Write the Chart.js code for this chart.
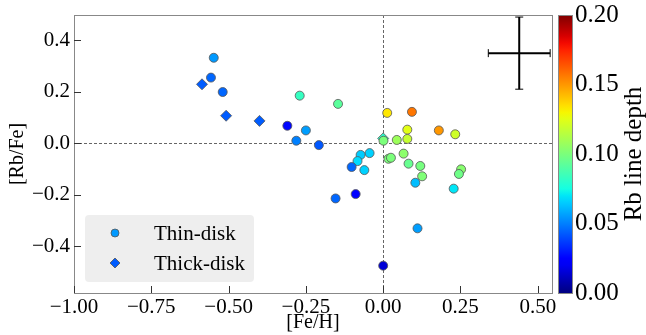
<!DOCTYPE html>
<html>
<head>
<meta charset="utf-8">
<script src="https://cdn.jsdelivr.net/npm/chart.js@4.4.1/dist/chart.umd.min.js"></script>
<style>
  html, body { margin: 0; padding: 0; background: #fff; }
</style>
</head>
<body>
<canvas id="myChart" width="646" height="335"></canvas>
<script>
// thin-disk stars: [Fe/H], [Rb/Fe], Rb line depth
const thinFeH = [-0.548, -0.557, -0.519, -0.310, -0.250, -0.281, -0.208, -0.270, -0.146,
    0.013, 0.093, 0.078, 0.180, 0.233, 0.078, 0.044, 0.001, 0.066, 0.017, 0.025, 0.082,
    0.120, 0.126, 0.252, 0.245, 0.104, 0.228, -0.044, -0.073, -0.083, -0.102, -0.061,
    -0.154, -0.089, 0.111, 0.000];
const thinRbFe = [0.332, 0.255, 0.199, 0.068, 0.050, 0.010, -0.007, 0.185, 0.153,
    0.118, 0.122, 0.053, 0.050, 0.035, 0.017, 0.013, 0.010, -0.040, -0.060, -0.056, -0.079,
    -0.088, -0.128, -0.101, -0.119, -0.153, -0.176, -0.038, -0.045, -0.069, -0.092, -0.104,
    -0.214, -0.197, -0.330, -0.475];
const thinDepth = [0.055, 0.045, 0.045, 0.026, 0.056, 0.050, 0.042, 0.083, 0.092,
    0.133, 0.157, 0.125, 0.150, 0.120, 0.118, 0.108, 0.100, 0.104, 0.100, 0.100, 0.095,
    0.099, 0.101, 0.103, 0.097, 0.062, 0.070, 0.066, 0.065, 0.068, 0.045, 0.066,
    0.045, 0.025, 0.056, 0.015];

// thick-disk stars
const thickFeH = [-0.586, -0.508, -0.400, 0.000];
const thickRbFe = [0.229, 0.107, 0.087, 0.019];
const thickDepth = [0.043, 0.043, 0.043, 0.080];

// typical error bar
const errFeH = [0.44];
const errRbFe = [0.35];
const errFeHSize = [0.10];
const errRbFeSize = [0.14];

const xTicks = [-1.00, -0.75, -0.50, -0.25, 0.00, 0.25, 0.50];
const yTicks = [-0.4, -0.2, 0.0, 0.2, 0.4];
const cbTicks = [0.00, 0.05, 0.10, 0.15, 0.20];
const depthMin = 0.0, depthMax = 0.2;

const serif = '"Liberation Serif", "Times New Roman", serif';

// matplotlib jet segments
const jetR = [[0, 0], [0.35, 0], [0.66, 1], [0.89, 1], [1, 0.5]];
const jetG = [[0, 0], [0.125, 0], [0.375, 1], [0.64, 1], [0.91, 0], [1, 0]];
const jetB = [[0, 0.5], [0.11, 1], [0.34, 1], [0.65, 0], [1, 0]];
const seg = function(p, t) {
    for (let i = 1; i < p.length; i++) {
        if (t <= p[i][0]) {
            const f = (t - p[i-1][0]) / (p[i][0] - p[i-1][0]);
            return p[i-1][1] + f * (p[i][1] - p[i-1][1]);
        }
    }
    return p[p.length-1][1];
}
const jet = function(v) {
    let t = (v - depthMin) / (depthMax - depthMin);
    t = Math.max(0, Math.min(1, t));
    return 'rgb(' + Math.round(255*seg(jetR, t)) + ',' + Math.round(255*seg(jetG, t)) + ',' + Math.round(255*seg(jetB, t)) + ')';
}
const fmt = (v, d) => Number(v).toFixed(d).replace('-', '\u2212');
// fixed axis sizes, no extra label overflow padding
const fixSize = (w, h) => s => {
    if (w) s.width = w;
    if (h) s.height = h;
    s.paddingTop = 0; s.paddingBottom = 0; s.paddingLeft = 0; s.paddingRight = 0;
};

const thinData = thinFeH.map((x, i) => ({x: x, y: thinRbFe[i]}));
const thickData = thickFeH.map((x, i) => ({x: x, y: thickRbFe[i]}));

const extras = {
    id: 'extras',
    beforeDatasetsDraw(chart) {
        const {ctx, chartArea: a, scales: {x, y}} = chart;
        ctx.save();
        ctx.strokeStyle = '#666';
        ctx.lineWidth = 1;
        ctx.setLineDash([3, 2]);
        const x0 = Math.round(x.getPixelForValue(0)) + 0.5;
        const y0 = Math.round(y.getPixelForValue(0)) + 0.5;
        ctx.beginPath();
        ctx.moveTo(x0, a.top); ctx.lineTo(x0, a.bottom);
        ctx.moveTo(a.left, y0); ctx.lineTo(a.right, y0);
        ctx.stroke();
        ctx.restore();
    },
    afterDraw(chart) {
        const {ctx, chartArea: a, scales: {x, y, y2}} = chart;
        ctx.save();
        // spines
        ctx.strokeStyle = '#888';
        ctx.lineWidth = 1;
        ctx.strokeRect(Math.round(a.left) + 0.5, Math.round(a.top) + 0.5,
            Math.round(a.right - a.left), Math.round(a.bottom - a.top));
        // inward ticks
        ctx.strokeStyle = '#333';
        ctx.beginPath();
        xTicks.forEach(v => {
            const px = Math.round(x.getPixelForValue(v)) + 0.5;
            ctx.moveTo(px, a.bottom); ctx.lineTo(px, a.bottom - 7);
        });
        yTicks.forEach(v => {
            const py = Math.round(y.getPixelForValue(v)) + 0.5;
            ctx.moveTo(a.left, py); ctx.lineTo(a.left + 7, py);
        });
        ctx.stroke();

        // error bar
        ctx.strokeStyle = '#000';
        errFeH.forEach((ex, i) => {
            const cx = x.getPixelForValue(ex), cy = y.getPixelForValue(errRbFe[i]);
            const xl = x.getPixelForValue(ex - errFeHSize[i]), xr = x.getPixelForValue(ex + errFeHSize[i]);
            const yt = y.getPixelForValue(errRbFe[i] + errRbFeSize[i]), yb = y.getPixelForValue(errRbFe[i] - errRbFeSize[i]);
            ctx.lineWidth = 2;
            ctx.beginPath();
            ctx.moveTo(xl, cy); ctx.lineTo(xr, cy);
            ctx.moveTo(cx, yt); ctx.lineTo(cx, yb);
            ctx.stroke();
            ctx.lineWidth = 1;
            ctx.beginPath();
            ctx.moveTo(xl, cy - 4); ctx.lineTo(xl, cy + 4);
            ctx.moveTo(xr, cy - 4); ctx.lineTo(xr, cy + 4);
            ctx.moveTo(cx - 4, yt); ctx.lineTo(cx + 4, yt);
            ctx.moveTo(cx - 4, yb); ctx.lineTo(cx + 4, yb);
            ctx.stroke();
        });

        // colorbar
        const cbL = a.right + 6, cbW = 14;
        const cbTop = y2.getPixelForValue(depthMax), cbBot = y2.getPixelForValue(depthMin);
        const grad = ctx.createLinearGradient(0, cbBot, 0, cbTop);
        for (let i = 0; i <= 40; i++) {
            grad.addColorStop(i / 40, jet(depthMin + (depthMax - depthMin) * i / 40));
        }
        ctx.fillStyle = grad;
        ctx.fillRect(cbL, cbTop, cbW, cbBot - cbTop);
        ctx.strokeStyle = '#888';
        ctx.lineWidth = 1;
        ctx.strokeRect(Math.round(cbL) + 0.5, Math.round(cbTop) + 0.5, cbW, Math.round(cbBot - cbTop));

        // colorbar label
        ctx.fillStyle = '#000';
        ctx.font = '25px ' + serif;
        ctx.textAlign = 'center';
        ctx.textBaseline = 'middle';
        ctx.translate(634, (cbTop + cbBot) / 2);
        ctx.rotate(-Math.PI / 2);
        ctx.fillText('Rb line depth', 0, 0);
        ctx.setTransform(1, 0, 0, 1, 0, 0);

        // legend
        ctx.fillStyle = 'rgba(236,236,236,0.9)';
        ctx.beginPath();
        ctx.roundRect(85, 215, 169, 67, 4);
        ctx.fill();
        ctx.strokeStyle = '#555';
        ctx.lineWidth = 0.8;
        ctx.fillStyle = jet(0.055);
        ctx.beginPath();
        ctx.arc(115, 233, 4, 0, Math.PI * 2);
        ctx.fill(); ctx.stroke();
        ctx.fillStyle = jet(0.043);
        ctx.beginPath();
        ctx.moveTo(110, 263); ctx.lineTo(115, 258); ctx.lineTo(120, 263); ctx.lineTo(115, 268);
        ctx.closePath();
        ctx.fill(); ctx.stroke();
        ctx.fillStyle = '#000';
        ctx.font = '21px ' + serif;
        ctx.textAlign = 'left';
        ctx.textBaseline = 'middle';
        ctx.fillText('Thin-disk', 154, 234);
        ctx.fillText('Thick-disk', 154, 264);
        ctx.restore();
    }
};

const ctx = document.getElementById('myChart').getContext('2d');
const chart = new Chart(ctx, {
    type: 'scatter',
    data: {
        datasets: [{
            label: 'Thin-disk',
            data: thinData,
            pointStyle: 'circle',
            pointRadius: 4.5,
            pointBackgroundColor: thinDepth.map(jet),
            pointBorderColor: '#555',
            pointBorderWidth: 0.8
        }, {
            label: 'Thick-disk',
            data: thickData,
            pointStyle: 'rectRot',
            pointRadius: 5.5,
            pointBackgroundColor: thickDepth.map(jet),
            pointBorderColor: '#555',
            pointBorderWidth: 0.8
        }]
    },
    options: {
        responsive: false,
        animation: false,
        events: [],
        layout: { padding: { top: 15, right: 0, bottom: 0, left: 0 } },
        plugins: { legend: { display: false }, tooltip: { enabled: false } },
        scales: {
            x: {
                type: 'linear',
                min: -1.0,
                max: 0.546,
                afterBuildTicks: s => { s.ticks = xTicks.map(v => ({value: v})); },
                afterFit: fixSize(0, 42),
                grid: { display: false, drawTicks: false },
                border: { display: false },
                ticks: {
                    color: '#000',
                    font: { family: serif, size: 21 },
                    padding: 2,
                    maxRotation: 0,
                    autoSkip: false,
                    callback: v => fmt(v, 2)
                },
                title: {
                    display: true,
                    text: '[Fe/H]',
                    color: '#000',
                    font: { family: serif, size: 20 },
                    padding: { top: 0, bottom: 0 }
                }
            },
            y: {
                type: 'linear',
                min: -0.581,
                max: 0.498,
                afterBuildTicks: s => { s.ticks = yTicks.map(v => ({value: v})); },
                afterFit: fixSize(74, 0),
                grid: { display: false, drawTicks: false },
                border: { display: false },
                ticks: {
                    color: '#000',
                    font: { family: serif, size: 21 },
                    padding: 4,
                    autoSkip: false,
                    callback: v => fmt(v, 1)
                },
                title: {
                    display: true,
                    text: '[Rb/Fe]',
                    color: '#000',
                    font: { family: serif, size: 20 },
                    padding: { top: 6, bottom: 0 }
                }
            },
            y2: {
                type: 'linear',
                position: 'right',
                min: depthMin,
                max: depthMax,
                afterBuildTicks: s => { s.ticks = cbTicks.map(v => ({value: v})); },
                afterFit: fixSize(94, 0),
                grid: { display: false, drawTicks: false },
                border: { display: false },
                ticks: {
                    color: '#000',
                    font: { family: serif, size: 25 },
                    padding: 23,
                    autoSkip: false,
                    callback: v => fmt(v, 2)
                }
            }
        }
    },
    plugins: [extras]
});
</script>
</body>
</html>
